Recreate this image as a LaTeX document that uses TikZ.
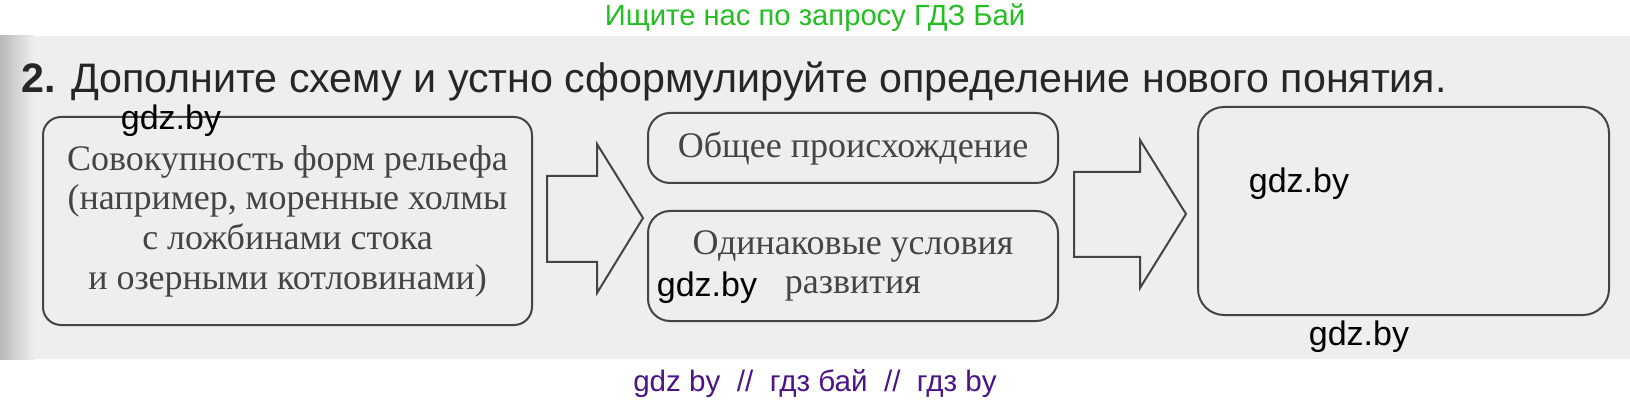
\documentclass[tikz,border=0pt]{standalone}
\usepackage{fontspec}
\setmainfont{Liberation Serif}
\newfontfamily\headfont{Liberation Sans}
\usetikzlibrary{positioning}

\definecolor{gdzgreen}{RGB}{34,190,34}
\definecolor{gdzpurple}{RGB}{75,20,135}
\definecolor{paper}{RGB}{238,238,238}
\definecolor{ink}{RGB}{68,68,68}

\begin{document}
\begin{tikzpicture}[
	x=0.5pt, y=-0.5pt,
	box/.style={
		draw=ink,
		line width=1pt,
		rounded corners=9pt,
		align=center,
		text=ink,
		inner sep=0pt,
		font=\fontsize{18}{19.8}\selectfont
	},
	wmark/.style={
		font=\headfont\fontsize{17}{19}\selectfont,
		inner sep=0pt
	},
	blockarrow/.style={
		draw=ink,
		line width=1pt,
		line join=miter
	}]

	% page and scanned sheet
	\useasboundingbox (0,0) rectangle (1630,401);
	\fill[white] (0,0) rectangle (1630,401);
	\fill[paper] (0,36) rectangle (1630,359);
	\shade[left color=gray!55, right color=paper] (0,36) rectangle (34,359);

	\node[font=\headfont\fontsize{14.6}{16}\selectfont, text=gdzgreen, anchor=base, inner sep=0pt] (top) at (815,26) {Ищите нас по запросу ГДЗ Бай};

	\node[font=\headfont\fontsize{20.6}{24}\selectfont, text=black!85, anchor=base west, inner sep=0pt] (task) at (21,93)
		{\textbf{2.} Дополните схему и устно сформулируйте определение нового понятия.};

	% boxes
	\node[box, minimum width=244.5pt, minimum height=104pt] (relief) at (287.5,221)
		{Совокупность форм рельефа\\(например, моренные холмы\\с ложбинами стока\\и озерными котловинами)};
	\node[box, rounded corners=11pt, minimum width=205pt, minimum height=35pt] (origin) at (853,148)
		{Общее происхождение};
	\node[box, rounded corners=11pt, minimum width=205pt, minimum height=55pt] (cond) at (853,266)
		{Одинаковые условия\\развития};
	\node[box, rounded corners=13pt, minimum width=205.5pt, minimum height=104pt] (answer) at (1403.5,211) {};

	% arrows
	\draw[blockarrow] (547,176) -- (597,176) -- (597,144) -- (643,218) -- (597,293) -- (597,262) -- (547,262) -- cycle;
	\draw[blockarrow] (1074,172) -- (1140,172) -- (1140,140) -- (1186,214) -- (1140,288) -- (1140,257) -- (1074,257) -- cycle;

	% watermarks
	\node[wmark] (w1) at (171,121) {gdz.by};
	\node[wmark] (w2) at (707,288) {gdz.by};
	\node[wmark] (w3) at (1299,184) {gdz.by};
	\node[wmark] (w4) at (1359,337) {gdz.by};

	\node[font=\headfont\fontsize{14.8}{16}\selectfont, text=gdzpurple, anchor=base, inner sep=0pt] (bottom) at (815,391)
		{gdz by\ \ //\ \ гдз бай\ \ //\ \ гдз by};
\end{tikzpicture}
\end{document}
